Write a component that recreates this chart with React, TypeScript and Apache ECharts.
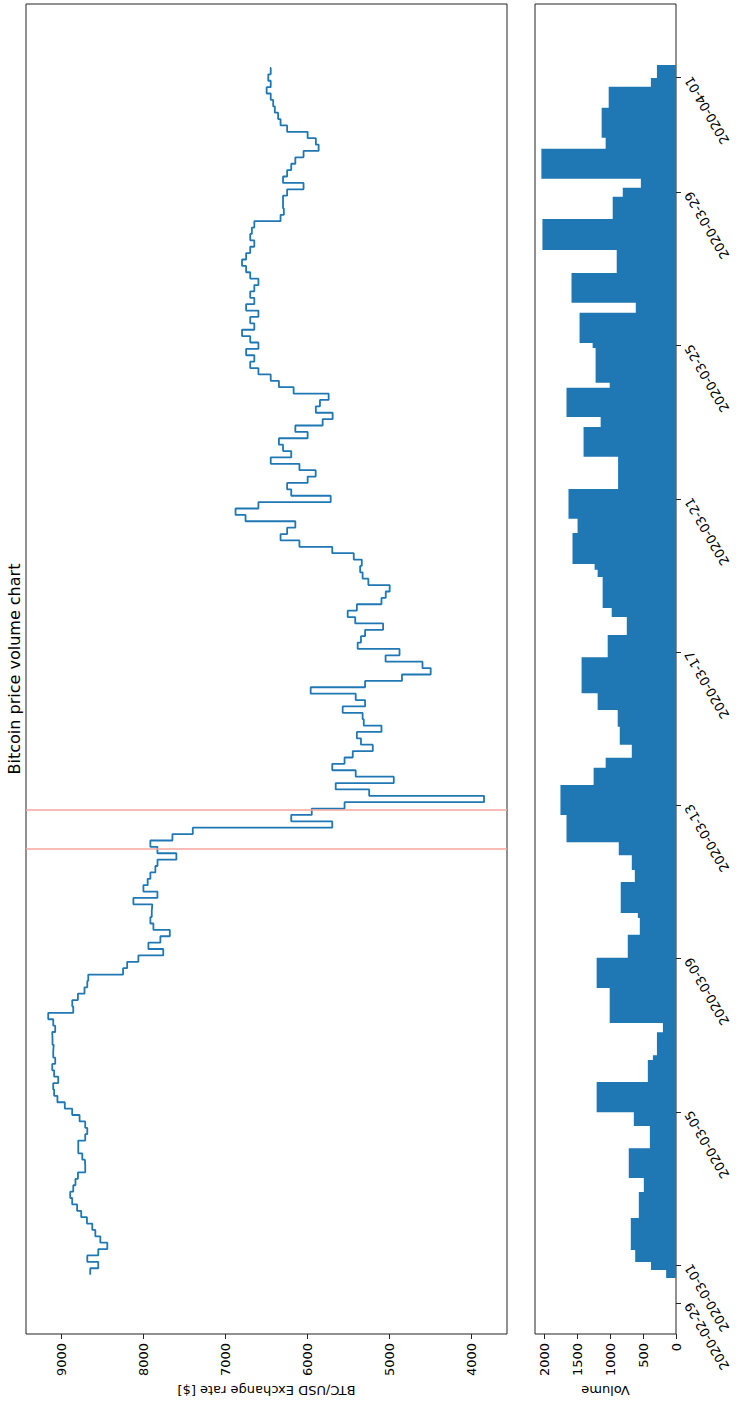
import React, { useEffect, useRef } from "react";
import * as echarts from "echarts";

// ---------- data ----------
const T0 = Date.UTC(2020, 2, 1); // 2020-03-01 00:00 UTC
const DAY = 86400000;

// price: regular 4-hour samples starting 2020-02-29 18:00
const PRICE_START_DAY = -0.25;
const PRICE_STEP_DAYS = 1 / 6;
const priceValues = [
  8650, 8552, 8686, 8552, 8442, 8527, 8588, 8625, 8690, 8760,
  8810, 8870, 8894, 8857, 8830, 8800, 8711, 8715, 8747, 8796,
  8796, 8711, 8686, 8711, 8780, 8870, 8960, 9050, 9090, 9101,
  9040, 9090, 9113, 9077, 9101, 9095, 9110, 9113, 9077, 9101,
  9162, 8857, 8869, 8800, 8720, 8686, 8674, 8250, 8200, 8063,
  7760, 7941, 7795, 7680, 7880, 7917, 7900, 7893, 8124, 7831,
  8002, 7950, 7917, 7856, 7830, 7600, 7831, 7917, 7648, 7400,
  5700, 6200, 5950, 5550, 3850, 5250, 5658, 4950, 5414, 5700,
  5550, 5450, 5206, 5350, 5400, 5100, 5316, 5330, 5573, 5300,
  5414, 5963, 5300, 4850, 4500, 4600, 5050, 4880, 5390, 5350,
  5300, 5080, 5420, 5512, 5400, 5100, 5048, 5000, 5260, 5330,
  5360, 5340, 5438, 5700, 6100, 6330, 6250, 6150, 6757, 6879,
  6600, 5719, 6200, 6250, 6000, 5902, 6100, 6450, 6200, 6300,
  6350, 6000, 6150, 5817, 5695, 5900, 5850, 5744, 6171, 6350,
  6450, 6600, 6700, 6650, 6750, 6600, 6700, 6800, 6650, 6700,
  6600, 6750, 6650, 6700, 6650, 6600, 6700, 6750, 6800, 6750,
  6700, 6650, 6700, 6680, 6650, 6330, 6290, 6300, 6300, 6250,
  6050, 6300, 6250, 6200, 6150, 6050, 5866, 5900, 6000, 6250,
  6330, 6360, 6400, 6420, 6450, 6500, 6450, 6480, 6450, 6460,
];

// volume: step boundaries (days since 2020-03-01) and the value of each step
const volumeDays = [
  -0.34, -0.13, 0.08, 0.39, 1.23, 1.91, 2.27, 3.05, 3.63, 3.99,
  4.78, 5.35, 5.48, 6.08, 6.32, 7.23, 8.02, 8.62, 9.06, 9.19,
  10.0, 10.31, 10.7, 11.04, 11.75, 12.53, 12.98, 13.24, 13.58, 14.05,
  14.49, 14.93, 15.87, 16.45, 16.92, 17.15, 17.96, 18.15, 18.3, 19.11,
  19.48, 20.26, 21.1, 21.88, 22.14, 22.9, 23.03, 23.94, 24.07, 24.86,
  25.12, 25.9, 26.5, 27.31, 27.89, 28.12, 28.36, 29.14, 29.43, 30.21,
  30.76, 30.99, 31.33,
];
const volumeValues = [
  150, 380, 620, 687, 565, 489, 718, 397, 641, 1206,
  428, 351, 290, 199, 1008, 1206, 733, 550, 580, 840,
  626, 672, 870, 1664, 1756, 1252, 1069, 672, 855, 886,
  1191, 1435, 1038, 748, 977, 1115, 1191, 1237, 1573, 1496,
  1634, 880, 1405, 1145, 1664, 1008, 1222, 1267, 1466, 611,
  1588, 901, 2030, 962, 809, 534, 2046, 1069, 1130, 1023,
  382, 290,
];

const eventDays = [10.88, 11.88];
// date ticks as day offsets from 2020-03-01
const dateTickDays = [-1, 0, 4, 8, 12, 16, 20, 24, 28, 31];
const priceTicks = [4000, 5000, 6000, 7000, 8000, 9000];
const volumeTicks = [0, 500, 1000, 1500, 2000];

const TITLE = "Bitcoin price volume chart";
const PRICE_LABEL = "BTC/USD Exchange rate [$]";
const VOLUME_LABEL = "Volume";

// ---------- helpers ----------
const FONT = "DejaVu Sans";
const BLUE = "#1f77b4";
const DAY_MIN = -1.8;
const DAY_MAX = 32.92;
const pad2 = (n: number) => (n < 10 ? "0" + n : "" + n);
const dayToTime = (d: number) => T0 + d * DAY;
const fmtDay = (d: number) => {
  const t = new Date(dayToTime(Math.round(d)));
  return t.getUTCFullYear() + "-" + pad2(t.getUTCMonth() + 1) + "-" + pad2(t.getUTCDate());
};
const fmtNum = (v: number) => String(Math.round(v));

export default function App() {
  const ref = useRef<HTMLDivElement>(null);

  useEffect(() => {
    if (!ref.current) return;
    const chart = echarts.init(ref.current, undefined, { renderer: "svg" });

    const priceData = priceValues.map((v, i) => [v, dayToTime(PRICE_START_DAY + i * PRICE_STEP_DAYS)]);
    const volumeData = volumeDays.map((d, i) => [
      volumeValues[Math.min(i, volumeValues.length - 1)],
      dayToTime(d),
    ]);
    const tMin = dayToTime(DAY_MIN);
    const tMax = dayToTime(DAY_MAX);

    const labelStyle = { fontFamily: FONT, fontSize: 13, color: "#000" };

    chart.setOption({
      animation: false,
      backgroundColor: "#fff",
      graphic: [
        {
          type: "text",
          x: 14,
          y: 669,
          rotation: Math.PI / 2,
          style: {
            text: TITLE,
            font: '16px "DejaVu Sans"',
            fill: "#000",
            align: "center",
            verticalAlign: "middle",
            textAlign: "center",
            textVerticalAlign: "middle",
          },
        },
      ],
      grid: [
        { left: 26, top: 4, width: 481, height: 1330, show: true, borderColor: "#222", borderWidth: 1 },
        { left: 535, top: 4, width: 141, height: 1330, show: true, borderColor: "#222", borderWidth: 1 },
      ],
      xAxis: [
        {
          type: "value",
          gridIndex: 0,
          min: 3570,
          max: 9433,
          inverse: true,
          position: "bottom",
          axisLine: { show: false, onZero: false },
          splitLine: { show: false },
          axisTick: { show: true, length: 5, customValues: priceTicks, lineStyle: { color: "#222" } },
          axisLabel: { rotate: 90, margin: 9, customValues: priceTicks, formatter: fmtNum, ...labelStyle },
          name: PRICE_LABEL,
          nameLocation: "middle",
          nameGap: 48,
          nameRotate: 180,
          nameTextStyle: labelStyle,
        },
        {
          type: "value",
          gridIndex: 1,
          min: 0,
          max: 2143,
          inverse: true,
          position: "bottom",
          axisLine: { show: false, onZero: false },
          splitLine: { show: false },
          axisTick: { show: true, length: 5, customValues: volumeTicks, lineStyle: { color: "#222" } },
          axisLabel: { rotate: 90, margin: 9, customValues: volumeTicks, formatter: fmtNum, ...labelStyle },
          name: VOLUME_LABEL,
          nameLocation: "middle",
          nameGap: 48,
          nameRotate: 180,
          nameTextStyle: labelStyle,
        },
      ],
      yAxis: [
        { type: "time", gridIndex: 0, min: tMin, max: tMax, show: false },
        { type: "time", gridIndex: 1, min: tMin, max: tMax, show: false },
        {
          type: "value",
          gridIndex: 1,
          min: DAY_MIN,
          max: DAY_MAX,
          position: "right",
          axisLine: { show: false, onZero: false },
          axisTick: { show: true, length: 5, customValues: dateTickDays, lineStyle: { color: "#222" } },
          axisLabel: {
            rotate: 120,
            margin: 12,
            customValues: dateTickDays,
            formatter: (v: number) => fmtDay(v),
            ...labelStyle,
          },
          splitLine: { show: false },
        },
      ],
      series: [
        {
          type: "line",
          xAxisIndex: 0,
          yAxisIndex: 0,
          data: priceData,
          step: "end",
          symbol: "none",
          showSymbol: false,
          lineStyle: { color: BLUE, width: 1.8 },
          itemStyle: { color: BLUE },
          markLine: {
            silent: true,
            symbol: "none",
            label: { show: false },
            lineStyle: { color: "#f6a59c", width: 1.5, type: "solid" },
            data: eventDays.map((d) => ({ yAxis: dayToTime(d) })),
          },
        },
        {
          type: "line",
          xAxisIndex: 1,
          yAxisIndex: 1,
          data: volumeData,
          step: "end",
          symbol: "none",
          showSymbol: false,
          lineStyle: { width: 0, color: BLUE },
          itemStyle: { color: BLUE },
          areaStyle: { color: BLUE, opacity: 1 },
        },
      ],
    });

    return () => chart.dispose();
  }, []);

  return (
    <div
      ref={ref}
      style={{ position: "absolute", left: 0, top: 0, width: 738, height: 1406, background: "#fff" }}
    />
  );
}
